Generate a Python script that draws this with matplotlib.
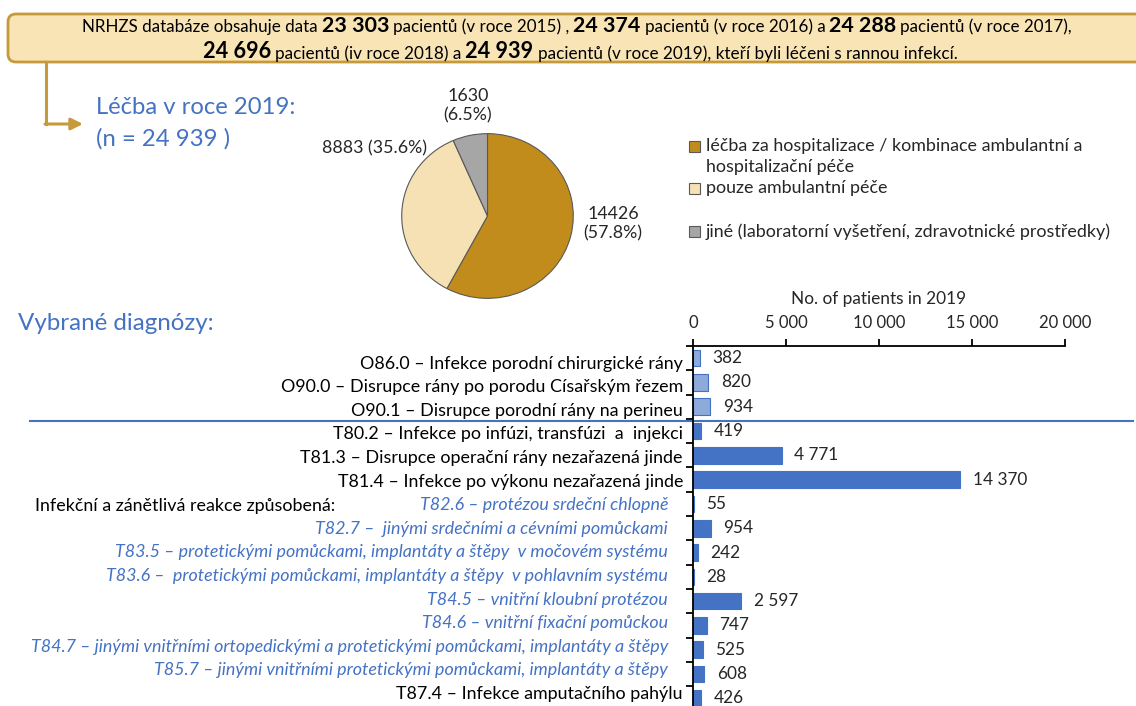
import numpy as np
import matplotlib.pyplot as plt
from matplotlib.patches import FancyBboxPatch, Rectangle
from matplotlib.ticker import FuncFormatter, NullFormatter

plt.rcParams['font.family'] = ['Lato', 'DejaVu Sans']

W, H = 1136, 706
BLUE = '#4472c4'
GOLD = '#c69a3a'
TXT = '#262626'

# banner: (text, bold)
banner_1 = [('NRHZS databáze obsahuje data', False), ('23 303', True),
            ('pacientů (v roce 2015) ,', False), ('24 374', True),
            ('pacientů (v roce 2016) a', False), ('24 288', True),
            ('pacientů (v roce 2017),', False)]
banner_2 = [('24 696', True), ('pacientů (iv roce 2018) a', False),
            ('24 939', True), ('pacientů (v roce 2019), kteří byli léčeni s rannou infekcí.', False)]

# pie
pie_values = [14426, 8883, 1630]
pie_share = ['57.8%', '35.6%', '6.5%']
pie_colors = ['#c28c1c', '#f5e1b4', '#a6a6a6']
pie_names = ['léčba za hospitalizace / kombinace ambulantní a\nhospitalizační péče',
             'pouze ambulantní péče',
             'jiné (laboratorní vyšetření, zdravotnické prostředky)']

# bars
diag_labels = ['O86.0 – Infekce porodní chirurgické rány',
               'O90.0 – Disrupce rány po porodu Císařským řezem',
               'O90.1 – Disrupce porodní rány na perineu',
               'T80.2 – Infekce po infúzi, transfúzi  a  injekci',
               'T81.3 – Disrupce operační rány nezařazená jinde',
               'T81.4 – Infekce po výkonu nezařazená jinde',
               'T82.6 – protézou srdeční chlopně',
               'T82.7 –  jinými srdečními a cévními pomůckami',
               'T83.5 – protetickými pomůckami, implantáty a štěpy  v močovém systému',
               'T83.6 –  protetickými pomůckami, implantáty a štěpy  v pohlavním systému',
               'T84.5 – vnitřní kloubní protézou',
               'T84.6 – vnitřní fixační pomůckou',
               'T84.7 – jinými vnitřními ortopedickými a protetickými pomůckami, implantáty a štěpy',
               'T85.7 – jinými vnitřními protetickými pomůckami, implantáty a štěpy',
               'T87.4 – Infekce amputačního pahýlu']
diag_values = [382, 820, 934, 419, 4771, 14370, 55, 954, 242, 28, 2597, 747, 525, 608, 426]
diag_italic = [False] * 6 + [True] * 8 + [False]
diag_light = [True] * 3 + [False] * 12


def fmt(v, pos=None):
    return f'{int(v):,}'.replace(',', ' ')


fig = plt.figure(figsize=(W / 100, H / 100), dpi=100)
bg = fig.add_axes([0, 0, 1, 1])
bg.set_xlim(0, W)
bg.set_ylim(H, 0)
bg.axis('off')
renderer = fig.canvas.get_renderer()


def width(t):
    return t.get_window_extent(renderer).width


# banner box + arrow
bg.add_patch(FancyBboxPatch((8, 14), 1150, 48, boxstyle='round,pad=0,rounding_size=8',
                            fc='#f8e4b5', ec=GOLD, lw=2))
bg.plot([46, 46], [62, 124], color=GOLD, lw=2.2)
bg.annotate('', xy=(83, 124), xytext=(45, 124),
            arrowprops=dict(arrowstyle='-|>,head_length=0.7,head_width=0.35', color=GOLD,
                            lw=2.2, shrinkA=0, shrinkB=0))


def rich_line(segs, cx, y, target):
    arts = [bg.text(0, y, s, fontsize=14.5 if b else 11.5, fontweight='bold' if b else 'normal',
                    color='black', ha='left', va='baseline') for s, b in segs]
    gap = 4
    k = target / (sum(width(t) for t in arts) + gap * (len(arts) - 1))
    for t in arts:
        t.set_fontsize(t.get_fontsize() * k)
    widths = [width(t) for t in arts]
    x = cx - (sum(widths) + gap * (len(arts) - 1)) / 2
    for t, w in zip(arts, widths):
        t.set_x(x)
        x += w + gap


rich_line(banner_1, 577, 32, 991)
rich_line(banner_2, 580, 58.5, 753)

bg.text(96, 107, 'Léčba v roce 2019:', color=BLUE, fontsize=17.2, va='center')
bg.text(96, 139, '(n = 24 939 )', color=BLUE, fontsize=17.2, va='center')
bg.text(18, 323, 'Vybrané diagnózy:', color=BLUE, fontsize=17.4, va='center')

# pie
pax = fig.add_axes([400 / W, 1 - 300 / H, 175 / W, 168 / H])
pax.pie(pie_values, colors=pie_colors, startangle=90, counterclock=False,
        wedgeprops=dict(edgecolor='#595959', linewidth=0.8))
pax.set_aspect('auto')
pax.set_xlim(-1.02, 1.02)
pax.set_ylim(-1.02, 1.02)

bg.text(613, 224, f'{pie_values[0]}\n({pie_share[0]})', ha='center', va='center',
        fontsize=12.8, color=TXT, linespacing=1.25)
bg.text(375, 148, f'{pie_values[1]} ({pie_share[1]})', ha='center', va='center',
        fontsize=12.8, color=TXT)
bg.text(468, 106, f'{pie_values[2]}\n({pie_share[2]})', ha='center', va='center',
        fontsize=12.8, color=TXT, linespacing=1.25)

# legend
for yy, c, name in zip([147, 189, 232], pie_colors, pie_names):
    bg.add_patch(Rectangle((689, yy - 6), 11, 11, fc=c, ec='#595959', lw=0.8))
    bg.text(706, yy - 9, name, ha='left', va='top', fontsize=12.9, color=TXT, linespacing=1.36)

# separator line
bg.plot([30, 1133], [421, 421], color=BLUE, lw=1.5)

# bar chart
ax = fig.add_axes([693 / W, 1 - 710.5 / H, 372 / W, 364.5 / H])
ax.set_facecolor('none')
y = np.arange(len(diag_values))
colors = ['#8eaadb' if lt else BLUE for lt in diag_light]
bars = ax.barh(y, diag_values, height=0.68, color=colors, edgecolor=BLUE, lw=0.8)
ax.bar_label(bars, labels=[fmt(v) for v in diag_values], padding=9, fontsize=12.4, color=TXT)
ax.set_xlim(0, 20000)
ax.set_ylim(len(diag_values) - 0.5, -0.5)
ax.xaxis.tick_top()
ax.xaxis.set_label_position('top')
ax.set_xticks([0, 5000, 10000, 15000, 20000])
ax.xaxis.set_major_formatter(FuncFormatter(fmt))
ax.set_xlabel('No. of patients in 2019', fontsize=12.4, color=TXT, labelpad=8)
for s in ['right', 'bottom']:
    ax.spines[s].set_visible(False)
for s in ['top', 'left']:
    ax.spines[s].set_linewidth(1.3)
ax.tick_params(axis='x', direction='out', length=5, width=1.3, pad=6, labelsize=12,
               labelcolor=TXT)
ax.set_yticks(y)
ax.yaxis.set_major_formatter(NullFormatter())
ax.set_yticks(np.arange(-0.5, len(diag_values), 1), minor=True)
ax.tick_params(axis='y', which='major', length=0)
ax.tick_params(axis='y', which='minor', length=5, width=1.3, direction='out')

# category labels (own text block, slightly tighter line spacing than the bars)
cat = []
for yi, lab, it in zip(y, diag_labels, diag_italic):
    cat.append(ax.annotate(lab, xy=(0, yi), xycoords=('axes fraction', 'data'),
                           xytext=(-25 if it else -10, 0.7 * yi - 4), textcoords='offset pixels',
                           ha='right', va='center_baseline', fontsize=13,
                           color=BLUE if it else 'black', style='italic' if it else 'normal'))
note = bg.text(35, 505, 'Infekční a zánětlivá reakce způsobená:', fontsize=13,
               color='black', ha='left', va='center_baseline')
k_black = 321 / width(cat[0])
k_ital = 633 / width(cat[12])
for t, it in zip(cat, diag_italic):
    t.set_fontsize(13 * (k_ital if it else k_black))
note.set_fontsize(13 * k_black)

fig.savefig('out.png', dpi=100)
